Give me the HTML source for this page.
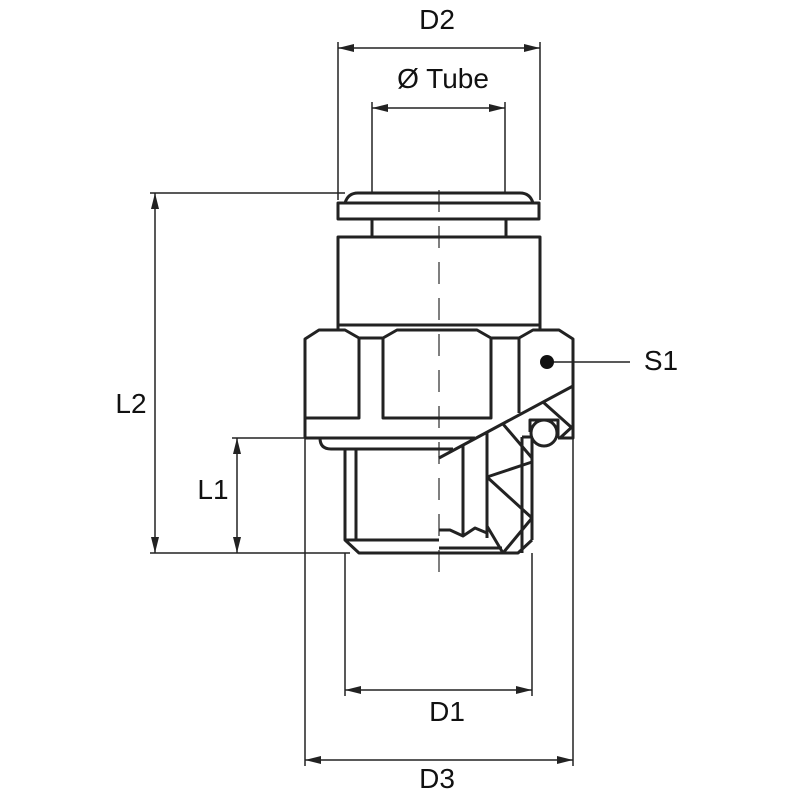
<!DOCTYPE html>
<html><head><meta charset="utf-8"><style>
html,body{margin:0;padding:0;background:#fff;}
svg{display:block}
text{font-family:"Liberation Sans",sans-serif;font-size:28px;fill:#111;}
</style></head><body>
<svg width="800" height="800" viewBox="0 0 800 800" xmlns="http://www.w3.org/2000/svg">
<defs>
<marker id="a" viewBox="0 0 16 8" refX="16" refY="4" markerWidth="16" markerHeight="8" orient="auto-start-reverse" markerUnits="userSpaceOnUse"><path d="M0,0 L16,4 L0,8 z" fill="#222"/></marker>
</defs>
<g stroke="#222" stroke-width="1.5" fill="none">
<line x1="338" y1="42" x2="338" y2="200"/>
<line x1="540" y1="42" x2="540" y2="200"/>
<line x1="372" y1="102" x2="372" y2="193"/>
<line x1="505" y1="102" x2="505" y2="193"/>
<line x1="150" y1="193" x2="345" y2="193"/>
<line x1="232" y1="438" x2="305" y2="438"/>
<line x1="150" y1="553" x2="350" y2="553"/>
<line x1="345" y1="553" x2="345" y2="696"/>
<line x1="532" y1="553" x2="532" y2="696"/>
<line x1="305" y1="438" x2="305" y2="766"/>
<line x1="573" y1="438" x2="573" y2="766"/>
<line x1="553" y1="362" x2="630" y2="362"/>
<line x1="338" y1="48" x2="540" y2="48" marker-start="url(#a)" marker-end="url(#a)"/>
<line x1="372" y1="108" x2="505" y2="108" marker-start="url(#a)" marker-end="url(#a)"/>
<line x1="155" y1="193" x2="155" y2="553" marker-start="url(#a)" marker-end="url(#a)"/>
<line x1="237" y1="438" x2="237" y2="553" marker-start="url(#a)" marker-end="url(#a)"/>
<line x1="345" y1="690" x2="532" y2="690" marker-start="url(#a)" marker-end="url(#a)"/>
<line x1="305" y1="760" x2="573" y2="760" marker-start="url(#a)" marker-end="url(#a)"/>
<line x1="439" y1="190" x2="439" y2="575" stroke="#555" stroke-dasharray="22,14"/>
</g>
<g stroke="#222" stroke-width="3" fill="none" stroke-linejoin="round">
<path d="M345,203 Q348,193 358,193 L520,193 Q530,193 533,203"/>
<rect x="338" y="203" width="201" height="16"/>
<line x1="372" y1="219" x2="372" y2="237"/>
<line x1="506" y1="219" x2="506" y2="237"/>
<rect x="338" y="237" width="202" height="88"/>
<line x1="338" y1="325" x2="338" y2="330"/>
<line x1="540" y1="325" x2="540" y2="330"/>
<path d="M305,438 L305,339 L319,330 L345,330 L359,338 L359,418 L305,418"/>
<path d="M383,418 L383,338 L397,330 L477,330 L491,338 L491,418 Z"/>
<line x1="359" y1="338" x2="383" y2="338"/>
<line x1="491" y1="338" x2="519" y2="338"/>
<path d="M519,413 L519,338 L533,330 L559,330 L573,339 L573,438 L558,438"/>
<line x1="305" y1="438" x2="475" y2="438"/>
<path d="M320,438 Q320,449 331,449 L453,449"/>
<path d="M345,449 L345,540 L359,553 L518,553 L532,540"/>
<line x1="356" y1="449" x2="356" y2="540"/>
<line x1="345" y1="540" x2="439" y2="540"/>
<line x1="439" y1="548" x2="502" y2="548"/>
<path d="M439,530 L450,530 L463,536 L475,528 L487,533"/>
<line x1="439" y1="458" x2="573" y2="386"/>
<line x1="463" y1="445" x2="463" y2="536"/>
<line x1="487" y1="432" x2="487" y2="538"/>
<line x1="522" y1="437" x2="522" y2="553"/>
<line x1="532" y1="437" x2="532" y2="540"/>
<line x1="522" y1="437" x2="532" y2="437"/>
<line x1="503" y1="424" x2="532" y2="458"/>
<line x1="487" y1="477" x2="532" y2="462"/>
<line x1="487" y1="477" x2="532" y2="518"/>
<line x1="487" y1="526" x2="503" y2="553"/>
<line x1="503" y1="553" x2="532" y2="518"/>
<line x1="543" y1="402" x2="571" y2="427"/>
<line x1="560" y1="438" x2="573" y2="426"/>
<path d="M530,432 L530,420 L558,420 L558,438"/>
<circle cx="544" cy="433" r="13" fill="#fff"/>
</g>
<circle cx="547" cy="362" r="7" fill="#111"/>
<text x="437" y="29" text-anchor="middle">D2</text>
<text x="443" y="88" text-anchor="middle">Ø Tube</text>
<text x="131" y="413" text-anchor="middle">L2</text>
<text x="213" y="499" text-anchor="middle">L1</text>
<text x="661" y="370" text-anchor="middle">S1</text>
<text x="447" y="721" text-anchor="middle">D1</text>
<text x="437" y="788" text-anchor="middle">D3</text>
</svg>
</body></html>
